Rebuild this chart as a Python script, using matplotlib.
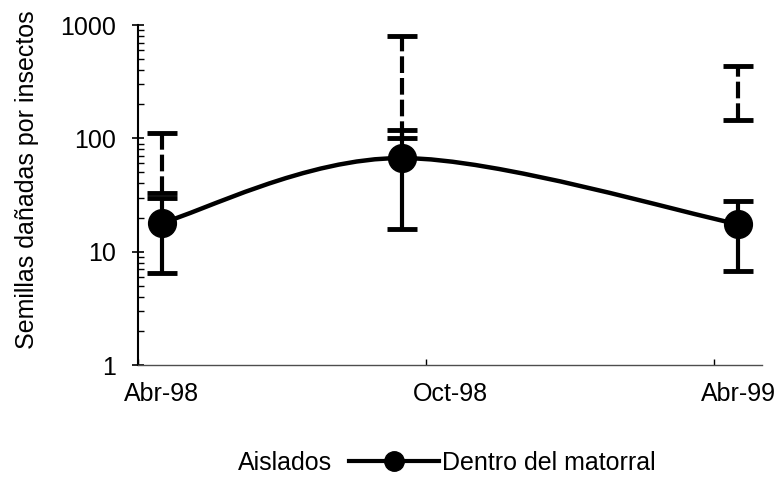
import matplotlib

matplotlib.use("Agg")
import matplotlib.pyplot as plt  # noqa: E402
import numpy as np  # noqa: E402
from matplotlib.lines import Line2D  # noqa: E402
from matplotlib.patches import PathPatch  # noqa: E402
from matplotlib.path import Path  # noqa: E402
from matplotlib.ticker import LogLocator, NullFormatter  # noqa: E402

plt.rcParams["font.family"] = ["Liberation Sans", "DejaVu Sans"]

# Months counted from April 1998; every month is one slot on the date axis.
sample_month = [0, 5, 12]
tick_month = [0, 6, 12]
tick_labels = ["Abr-98", "Oct-98", "Abr-99"]

aislados_mean = [72, 450, 290]
aislados_err = [39, 350, 145]
matorral_mean = [18, 67, 17.5]
matorral_err = [11.5, 51, 10.7]

FS = 18


def smooth_path(xs, ys):
    """Cubic Bezier through the points, built in (x, log10 y) space."""
    px = np.asarray(xs, float)
    py = np.log10(np.asarray(ys, float))
    n = len(px)
    verts = [(px[0], py[0])]
    codes = [Path.MOVETO]
    for i in range(n - 1):
        i0, i3 = max(i - 1, 0), min(i + 2, n - 1)
        c1 = (px[i] + (px[i + 1] - px[i0]) / 6, py[i] + (py[i + 1] - py[i0]) / 6)
        c2 = (px[i + 1] - (px[i3] - px[i]) / 6, py[i + 1] - (py[i3] - py[i]) / 6)
        verts += [c1, c2, (px[i + 1], py[i + 1])]
        codes += [Path.CURVE4] * 3
    return Path([(x, 10 ** y) for x, y in verts], codes)


x = [m + 0.5 for m in sample_month]

fig = plt.figure(figsize=(7.8, 4.94), dpi=100)
ax = fig.add_axes([138 / 780, 1 - 365 / 494, (762 - 138) / 780, (365 - 25) / 494])

ax.set_yscale("log")
ax.set_ylim(1, 1000)
ax.set_xlim(0, 13)

# Aislados: error bars only, dashed
eb = ax.errorbar(x, aislados_mean, yerr=aislados_err, fmt="none", ecolor="k",
                 elinewidth=3, capsize=11, capthick=3.5, zorder=2)
eb[2][0].set_linestyle((0, (4, 1.2)))

# Dentro del matorral: smoothed line, solid error bars, round markers
ax.add_patch(PathPatch(smooth_path(x, matorral_mean), facecolor="none",
                       edgecolor="k", lw=3.2, zorder=3))
ax.errorbar(x, matorral_mean, yerr=matorral_err, fmt="o", color="k", ms=20,
            elinewidth=3, capsize=11, capthick=3.5, zorder=4)

for side in ("top", "right"):
    ax.spines[side].set_visible(False)
ax.spines["left"].set_linewidth(1.5)
ax.spines["bottom"].set_linewidth(1.0)
ax.spines["bottom"].set_color("0.3")

ax.set_xticks(tick_month)
ax.set_xticklabels([])
ax.set_xticks([m + 0.5 for m in tick_month], minor=True)
ax.set_xticklabels(tick_labels, minor=True)
ax.tick_params(axis="x", which="major", direction="in", length=4, width=1)
ax.tick_params(axis="x", which="minor", length=0, pad=12, labelsize=FS)

ax.set_yticks([1, 10, 100, 1000])
ax.set_yticklabels(["1", "10", "100", "1000"])
ax.yaxis.set_minor_locator(LogLocator(base=10, subs=np.arange(2, 10)))
ax.yaxis.set_minor_formatter(NullFormatter())
ax.tick_params(axis="y", which="major", direction="inout", length=9, width=1.2,
               pad=11, labelsize=FS)
ax.tick_params(axis="y", which="minor", direction="in", length=4, width=1)

fig.text(27 / 780, 1 - 180 / 494, "Semillas dañadas por insectos",
         rotation=90, ha="center", va="center", fontsize=FS)

handles = [Line2D([], [], linestyle="none"),
           Line2D([], [], color="k", lw=3, marker="o", ms=14)]
fig.legend(handles, ["Aislados", "Dentro del matorral"], loc="center",
           bbox_to_anchor=(0.513, 0.063), ncol=2, frameon=False,
           handlelength=3.6, handletextpad=0.1, columnspacing=0.7, fontsize=FS)

fig.savefig("out.png", dpi=100)
